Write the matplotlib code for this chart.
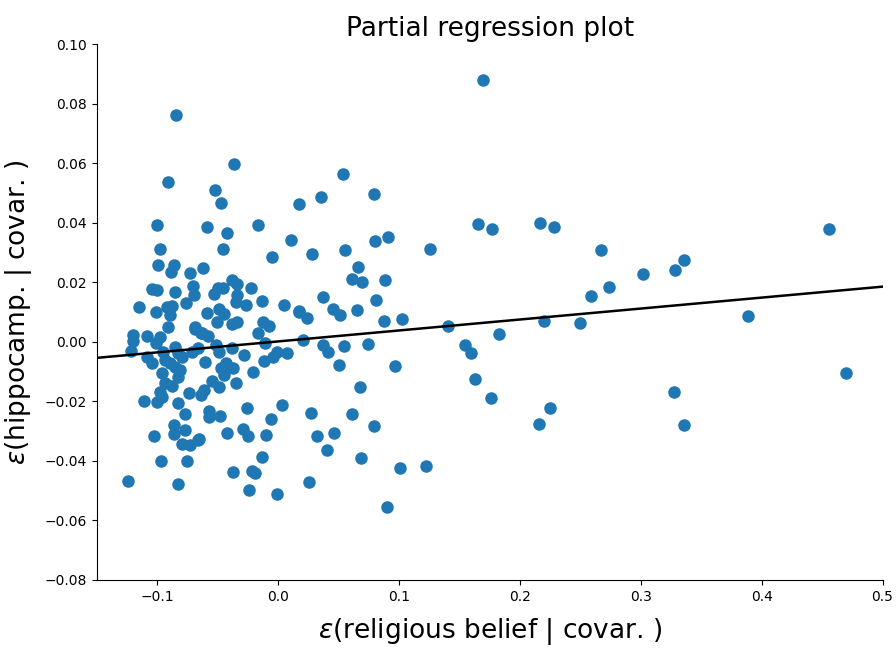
"""
Partial regression plot: hippocampus residuals vs religious belief residuals.
"""
import matplotlib
matplotlib.use('Agg')
import matplotlib.pyplot as plt

# residuals of religious belief (x) and hippocampus volume (y), both given covariates
belief_resid = [
    0.1697, 0.1657, 0.1769, 0.2168, 0.2284, 0.2669, 0.3361, 0.3281, 0.3017, 0.2741,
    0.2590, 0.4556, 0.1405, 0.2198, 0.2498, 0.3887, 0.1829, 0.1545, 0.1593, 0.1628,
    0.1758, 0.4694, 0.3275, 0.2251, 0.2157, 0.3358, 0.1259, 0.1223,
    0.0537, 0.0355, 0.0171, 0.0791, 0.0284, 0.0551, 0.0804, 0.0909, 0.0661, 0.0614,
    0.0697, 0.0882, 0.0372, 0.0812, 0.0171, 0.0242, 0.0457, 0.0512, 0.0655, 0.0879,
    0.1022, 0.0204, 0.0369, 0.0416, 0.0543, 0.0746, 0.0502, 0.0967, 0.0680, 0.0275,
    0.0612, 0.0796, 0.0325, 0.0465, 0.0403, 0.0683, 0.1008, 0.0254, 0.0898,
    -0.0364, -0.0521, -0.0471, -0.0587, -0.0419, -0.0168, 0.0105, -0.0455, -0.0047,
    -0.0620, -0.0383, -0.0339, -0.0496, -0.0457, -0.0531, -0.0339, -0.0345, -0.0226,
    -0.0262, -0.0135, 0.0050, 0.0174, -0.0587, -0.0488, -0.0444, -0.0507, -0.0378,
    -0.0336, -0.0124, -0.0074,
    -0.0163, -0.0631, -0.0576, -0.0107, -0.0659, -0.0510, -0.0493, -0.0383, -0.0284,
    -0.0011, -0.0039, 0.0077, -0.0113, -0.0603, -0.0430, -0.0474, -0.0369, -0.0446,
    -0.0209, -0.0543, -0.0488, -0.0350, -0.0617, -0.0636, -0.0259, 0.0036, -0.0568,
    -0.0570, -0.0477, -0.0058, -0.0287, -0.0250, -0.0419, -0.0099, -0.0653, -0.0135,
    -0.0372, -0.0217, -0.0190, -0.0240, -0.0011,
    -0.0846, -0.0907, -0.1000, -0.0973, -0.0994, -0.0860, -0.0882, -0.0730, -0.0702,
    -0.0697, -0.1044, -0.1000, -0.0851, -0.1151, -0.1014, -0.0917, -0.0874, -0.0895,
    -0.0766, -0.0912, -0.0686,
    -0.0686, -0.0636, -0.1204, -0.1204, -0.1085, -0.1008, -0.0975, -0.1215, -0.1085,
    -0.1039, -0.0948, -0.0934, -0.0893, -0.0851, -0.0824, -0.0851, -0.0810, -0.0791,
    -0.0713, -0.0961, -0.0829, -0.0934, -0.0874, -0.0975, -0.0961, -0.1107, -0.1003,
    -0.0824, -0.0741, -0.0774, -0.0865, -0.1028, -0.0865, -0.0774, -0.0791, -0.0727,
    -0.0659, -0.0967, -0.0755, -0.1245, -0.0829,
]
hippo_resid = [
    0.0878, 0.0395, 0.0378, 0.0399, 0.0384, 0.0309, 0.0276, 0.0241, 0.0228, 0.0184,
    0.0155, 0.0378, 0.0053, 0.0071, 0.0063, 0.0087, 0.0025, -0.0012, -0.0037, -0.0126,
    -0.0189, -0.0105, -0.0170, -0.0221, -0.0276, -0.0280, 0.0311, -0.0416,
    0.0565, 0.0486, 0.0462, 0.0495, 0.0295, 0.0307, 0.0337, 0.0351, 0.0251, 0.0210,
    0.0201, 0.0207, 0.0149, 0.0141, 0.0102, 0.0079, 0.0111, 0.0090, 0.0107, 0.0070,
    0.0075, 0.0007, -0.0010, -0.0035, -0.0014, -0.0007, -0.0079, -0.0080, -0.0153, -0.0240,
    -0.0241, -0.0284, -0.0316, -0.0307, -0.0364, -0.0391, -0.0424, -0.0471, -0.0556,
    0.0597, 0.0509, 0.0467, 0.0384, 0.0364, 0.0393, 0.0341, 0.0311, 0.0286,
    0.0247, 0.0207, 0.0194, 0.0182, 0.0180, 0.0159, 0.0156, 0.0135, 0.0182,
    0.0124, 0.0137, 0.0124, 0.0101, 0.0098, 0.0110, 0.0093, 0.0068, 0.0060,
    0.0068, 0.0068, 0.0053,
    0.0029, 0.0029, 0.0020, -0.0003, -0.0022, -0.0011, -0.0035, -0.0022, -0.0044,
    -0.0033, -0.0052, -0.0039, -0.0063, -0.0069, -0.0070, -0.0089, -0.0087, -0.0111,
    -0.0100, -0.0132, -0.0151, -0.0139, -0.0162, -0.0179, -0.0221, -0.0212, -0.0231,
    -0.0254, -0.0249, -0.0258, -0.0294, -0.0316, -0.0306, -0.0313, -0.0327, -0.0388,
    -0.0436, -0.0433, -0.0442, -0.0499, -0.0510,
    0.0763, 0.0537, 0.0392, 0.0313, 0.0258, 0.0258, 0.0233, 0.0230, 0.0187,
    0.0157, 0.0176, 0.0174, 0.0168, 0.0118, 0.0100, 0.0118, 0.0121, 0.0090,
    0.0129, 0.0051, 0.0049,
    0.0042, 0.0029, 0.0023, 0.0004, 0.0020, -0.0005, 0.0017, -0.0031, -0.0050,
    -0.0072, -0.0033, -0.0061, -0.0072, -0.0016, -0.0039, -0.0084, -0.0095, -0.0050,
    -0.0033, -0.0104, -0.0117, -0.0137, -0.0147, -0.0167, -0.0184, -0.0199, -0.0201,
    -0.0204, -0.0173, -0.0243, -0.0279, -0.0316, -0.0310, -0.0296, -0.0343, -0.0347,
    -0.0330, -0.0399, -0.0399, -0.0467, -0.0479,
]

# fitted line
fit_intercept = 0.00012
fit_slope = 0.0368

x_limits = (-0.15, 0.5)
y_limits = (-0.08, 0.10)

fig = plt.figure(figsize=(8.96, 6.48), dpi=100)
ax = fig.add_axes([0.108, 0.105, 0.877, 0.827])

ax.plot(belief_resid, hippo_resid, 'o', color='#1f77b4', markersize=8)
ax.plot(x_limits, [fit_intercept + fit_slope * x for x in x_limits], color='black', linewidth=1.8)

ax.set_xlim(x_limits)
ax.set_ylim(y_limits)
ax.spines['top'].set_visible(False)
ax.spines['right'].set_visible(False)
ax.tick_params(labelsize=10)

ax.set_title('Partial regression plot', fontsize=19)
ax.set_xlabel(r'$\varepsilon$(religious belief | covar. )', fontsize=19, labelpad=9)
ax.set_ylabel(r'$\varepsilon$(hippocamp. | covar. )', fontsize=19, labelpad=8)

plt.savefig('out.png', dpi=100)
